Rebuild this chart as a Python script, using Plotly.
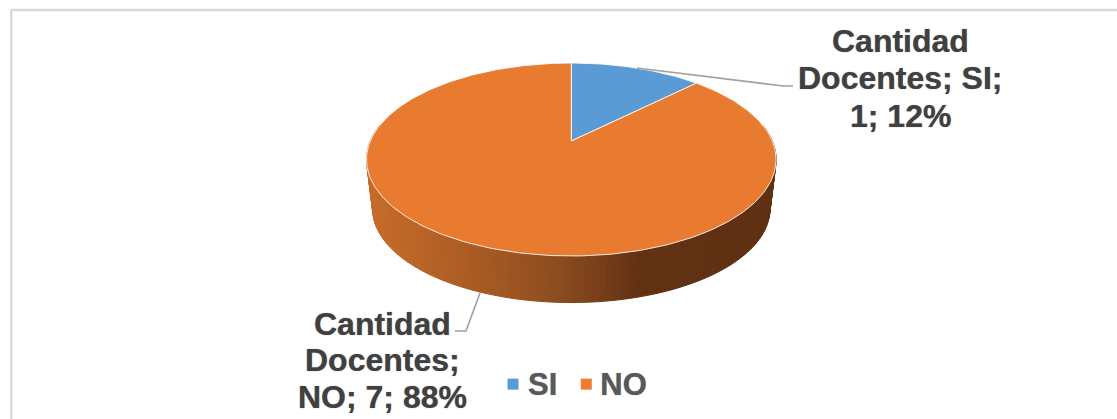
import numpy as np
import plotly.graph_objects as go

# ---- data ----
categories = ["SI", "NO"]
cantidad = [1, 7]
percent_labels = ["12%", "88%"]
series_name = "Cantidad Docentes"
label_lines = [
    ["Cantidad", "Docentes; SI;", "1; 12%"],
    ["Cantidad", "Docentes;", "NO; 7; 88%"],
]

# ---- style ----
W, H = 1117, 419
colors = ["#5B9BD5", "#ED7D31"]
top_colors = ["#5B9BD5", "#E97B31"]
FONT = "Liberation Sans, Arial, sans-serif"
CX, APEX_Y, R, K, A = 571.3, 141.0, 201.0, 0.1917, 92.95
DEPTH_Y, DEPTH_S = 50.0, 0.97
wall_stops = [(372, (200, 108, 42)), (470, (172, 92, 36)), (560, (140, 76, 31)),
              (640, (97, 49, 18)), (770, (95, 48, 18))]


def project(theta, scale=1.0, dy=0.0):
    """Perspective view of the disc; theta runs clockwise from 12 o'clock."""
    u, v = np.sin(theta), np.cos(theta)
    w = 1 + K * v
    return CX + scale * R * u / w, APEX_Y + dy + scale * A * (-v) / w


def wall_color(x):
    xs = [s[0] for s in wall_stops]
    rgb = [int(round(np.interp(x, xs, [s[1][i] for s in wall_stops]))) for i in range(3)]
    return "rgb(%d,%d,%d)" % tuple(rgb)


fig = go.Figure()

# side wall, built as narrow strips for the horizontal shading
edges = np.radians(np.linspace(80, 280, 121))[::-1]
for t0, t1 in zip(edges[:-1], edges[1:]):
    ts = np.array([t0, t1])
    xa, ya = project(ts)
    xb, yb = project(ts, DEPTH_S, DEPTH_Y)
    c = wall_color(float(np.mean(xb)))
    fig.add_trace(go.Scatter(x=[*xa, *xb[::-1], xa[0]], y=[*ya, *yb[::-1], ya[0]],
                             mode="lines", fill="toself", fillcolor=c,
                             line=dict(color=c, width=1), showlegend=False, hoverinfo="skip"))

# top face, slices from the values
total = sum(cantidad)
start = 0.0
for cat, val, col in zip(categories, cantidad, top_colors):
    end = start + 2 * np.pi * val / total
    ts = np.linspace(start, end, max(3, int(360 * val / total)))
    xs, ys = project(ts)
    fig.add_trace(go.Scatter(x=[CX, *xs, CX], y=[APEX_Y, *ys, APEX_Y], mode="lines",
                             fill="toself", fillcolor=col,
                             line=dict(color="rgba(255,255,255,0.85)", width=1),
                             showlegend=False, hovertext=cat, hoverinfo="text"))
    start = end

# legend entries
for cat, col in zip(categories, colors):
    fig.add_trace(go.Scatter(x=[None], y=[None], mode="markers", name=cat,
                             marker=dict(symbol="square", size=11, color=col)))

annotations = []
line_y = [[41, 78, 115.5], [323.5, 360, 397]]
line_x = [900, 382]
SOFT = "0 0 1px rgba(64,64,64,0.7)"
for lines, ys, x in zip(label_lines, line_y, line_x):
    for txt, y in zip(lines, ys):
        annotations.append(dict(x=x, y=y, xref="x", yref="y", text="<b>%s</b>" % txt,
                                showarrow=False, xanchor="center", yanchor="middle",
                                font=dict(family=FONT, size=32, color="#404040", shadow=SOFT)))

leader = dict(type="path", line=dict(color="#A0A0A0", width=1.6), layer="above")
shapes = [
    dict(leader, path="M 637 68 L 783 86 L 793 86"),
    dict(leader, path="M 480 293 L 466 331 L 455 331"),
    dict(type="line", x0=11.3, x1=11.3, y0=10, y1=H, line=dict(color="#D9D9D9", width=2.4), layer="below"),
    dict(type="line", x0=11, x1=W, y0=10, y1=10, line=dict(color="#D9D9D9", width=2.4), layer="below"),
]

fig.update_layout(
    width=W, height=H, autosize=False,
    margin=dict(l=0, r=0, t=0, b=0),
    paper_bgcolor="white", plot_bgcolor="white",
    xaxis=dict(range=[0, W], visible=False, fixedrange=True),
    yaxis=dict(range=[H, 0], visible=False, fixedrange=True),
    annotations=annotations, shapes=shapes,
    legend=dict(orientation="h", x=488 / W, y=1 - 385 / H, xanchor="left", yanchor="middle",
                font=dict(family=FONT, size=31, color="#595959", weight="bold", shadow=SOFT),
                bgcolor="rgba(0,0,0,0)", itemwidth=30, traceorder="normal"),
)
# page margin off; nudge legend swatches and the second entry to the reference spacing
post = """
document.body.style.margin='0';document.body.style.overflow='hidden';
var tr=document.querySelectorAll('.legend .traces');
var dx=[0,-2], sym=[5,6];
tr.forEach(function(g,i){
  var m=/translate\\(([-\\d.]+),\\s*([-\\d.]+)\\)/.exec(g.getAttribute('transform')||'');
  if(m){g.setAttribute('transform','translate('+(parseFloat(m[1])+dx[i])+','+(parseFloat(m[2])-2)+')');}
  var s=g.querySelector('.legendsymbols');
  if(s){s.setAttribute('transform','translate('+sym[i]+',1.5)');}
});
"""
fig.write_html("out.html", config=dict(displayModeBar=False), post_script=post)
